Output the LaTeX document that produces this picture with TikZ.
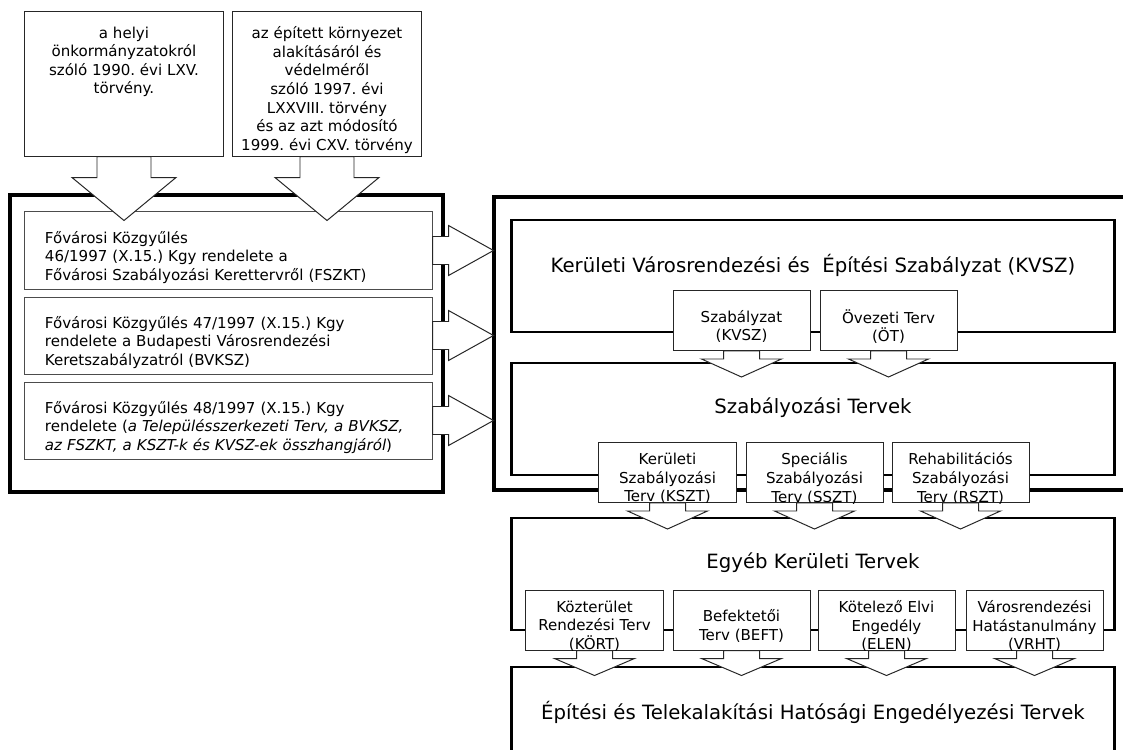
\documentclass[tikz,border=0pt]{standalone}
\usepackage{fontspec}
\setmainfont{DejaVu Sans}
\usetikzlibrary{positioning}

\newcommand{\lawfont}{\fontsize{10.7pt}{13.2pt}\selectfont}
\newcommand{\plantitlefont}{\fontsize{14pt}{17pt}\selectfont}

% arrow of a callout box, below or right of the box
\newcommand{\pointdown}[5]{%
  \draw [pointer] (#1.south) ++(-#2,0) -- ++(0,#3) -- ++(-#4,0) -- ++(#2+#4,#5)
    -- ++(#2+#4,-#5) -- ++(-#4,0) -- ++(0,-#3) -- cycle;}
\newcommand{\pointright}[5]{%
  \draw [pointer] (#1.east) ++(0,-#2) -- ++(#3,0) -- ++(0,-#4) -- ++(#5,#2+#4)
    -- ++(-#5,#2+#4) -- ++(0,-#4) -- ++(-#3,0) -- cycle;}

\begin{document}
\frenchspacing
\begin{tikzpicture}
    [
    x=0.025cm, y=-0.025cm,
    every node/.style={inner sep=0pt},
    outerframe/.style={draw,line width=2.8pt},
    plate/.style={draw,line width=2.1pt,minimum width=15.05cm,minimum height=2.8cm},
    plantitle/.style={font=\plantitlefont},
    lawtext/.style={text width=9.175cm,align=left,font=\lawfont,yshift=-1.75mm},
    lawbox/.style={draw=black!70,fill=white,line width=0.7pt,minimum width=10.175cm,
      minimum height=1.925cm,label={[lawtext]center:#1}},
    actbox/.style={draw=black!85,fill=white,line width=0.7pt,minimum height=3.6cm},
    acttext/.style={align=center,font=\lawfont},
    plantext/.style={align=center,font=\lawfont,yshift=-1.5mm},
    planbox/.style={draw=black!85,fill=white,line width=0.7pt,minimum width=3.425cm,
      minimum height=1.5cm,label={[plantext]center:#1}},
    pointer/.style={draw=black!85,fill=white,line width=0.7pt}
    ]
    \useasboundingbox (0,0) rectangle (1123,749);
    % frames
    \node (fovaros) at (226.5,343.5) [outerframe,minimum width=10.825cm,minimum height=7.425cm] {};
    \node (kerulet) at (819.5,343.5) [outerframe,minimum width=16.275cm,minimum height=7.325cm] {};
    \node (kvsz) at (813,276) [plate] {};
    \node (szt) at (813,419) [plate] {};
    \node (egyeb) at (813,574) [plate] {};
    \node (epites) at (813,728.5) [plate,minimum height=3.075cm] {};
    \node (kvszcim) at (813,265) [plantitle] {Kerületi Városrendezési és~ Építési Szabályzat (KVSZ)};
    \node (sztcim) at (813,408) [plantitle] {Szabályozási Tervek};
    \node (egyebcim) at (813,563) [plantitle] {Egyéb Kerületi Tervek};
    \node (epitescim) at (813,712) [plantitle] {Építési és Telekalakítási Hatósági Engedélyezési Tervek};
    % rendeletek
    \node (fszkt) at (228.5,250.5) [lawbox={Fővárosi Közgyűlés\\46/1997 (X.15.) Kgy rendelete a\\Fővárosi Szabályozási Kerettervről (FSZKT)}] {};
    \node (bvksz) at (228.5,335.5) [lawbox={Fővárosi Közgyűlés 47/1997 (X.15.) Kgy\\rendelete a Budapesti Városrendezési\\Keretszabályzatról (BVKSZ)}] {};
    \node (osszhang) at (228.5,420.5) [lawbox={Fővárosi Közgyűlés 48/1997 (X.15.) Kgy\\rendelete (\textit{a Településszerkezeti Terv, a BVKSZ,}\\\textit{az FSZKT, a KSZT-k és KVSZ-ek összhangjáról})}] {};
    \pointright{fszkt}{14}{16}{11}{45}
    \pointright{bvksz}{14}{16}{11}{45}
    \pointright{osszhang}{14}{16}{11}{45}
    % torvenyek
    \node (otv) at (124,84) [actbox,minimum width=4.95cm] {};
    \node (otvszoveg) [acttext,below=3.75mm of otv.north] {a helyi\\önkormányzatokról\\szóló 1990. évi LXV.\\törvény.};
    \node (etv) at (327,84) [actbox,minimum width=4.7cm] {};
    \node (etvszoveg) [acttext,below=3.75mm of etv.north] {az épített környezet\\alakításáról és\\védelméről\\szóló 1997. évi\\LXXVIII. törvény\\és az azt módosító\\1999. évi CXV. törvény};
    \pointdown{otv}{27}{21}{25}{43}
    \pointdown{etv}{27}{21}{25}{43}
    % KVSZ reszei
    \node (szabalyzat) at (741.5,320.5) [planbox={Szabályzat\\(KVSZ)}] {};
    \node (ot) at (888.5,320.5) [planbox={Övezeti Terv\\(ÖT)}] {};
    \pointdown{szabalyzat}{18}{8}{22}{18}
    \pointdown{ot}{18}{8}{22}{18}
    % szabalyozasi tervek
    \node (kszt) at (667.5,472.5) [planbox={Kerületi\\Szabályozási\\Terv (KSZT)}] {};
    \node (sszt) at (814.5,472.5) [planbox={Speciális\\Szabályozási\\Terv (SSZT)}] {};
    \node (rszt) at (960.5,472.5) [planbox={Rehabilitációs\\Szabályozási\\Terv (RSZT)}] {};
    \pointdown{kszt}{18}{8}{22}{18}
    \pointdown{sszt}{18}{8}{22}{18}
    \pointdown{rszt}{18}{8}{22}{18}
    % egyeb tervek
    \node (kort) at (594.5,620) [planbox={Közterület\\Rendezési Terv\\(KÖRT)}] {};
    \node (beft) at (741.5,620) [planbox={Befektetői\\Terv (BEFT)}] {};
    \node (elen) at (886.5,620) [planbox={Kötelező Elvi\\Engedély\\(ELEN)}] {};
    \node (vrht) at (1034.5,620) [planbox={Városrendezési\\Hatástanulmány\\(VRHT)}] {};
    \pointdown{kort}{18}{8}{22}{17}
    \pointdown{beft}{18}{8}{22}{17}
    \pointdown{elen}{18}{8}{22}{17}
    \pointdown{vrht}{18}{8}{22}{17}
  \end{tikzpicture}
\end{document}
